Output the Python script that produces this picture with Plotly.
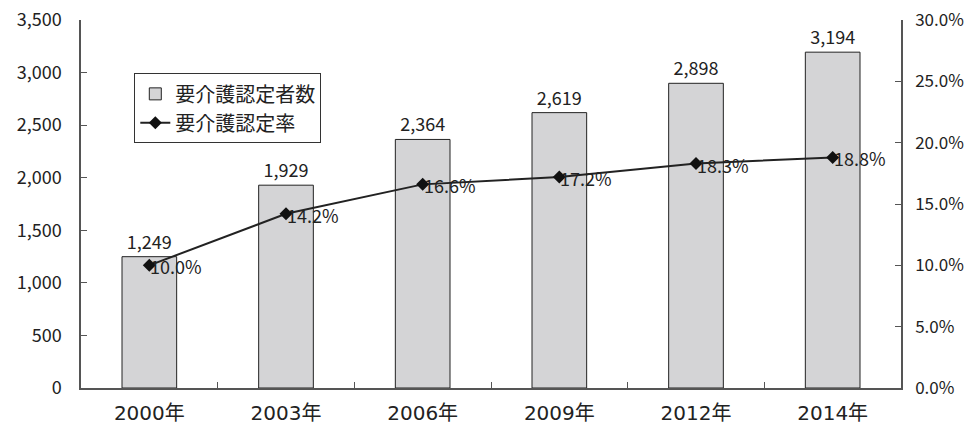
import plotly.graph_objects as go

years = ["2000年", "2003年", "2006年", "2009年", "2012年", "2014年"]
certified = [1249, 1929, 2364, 2619, 2898, 3194]          # 要介護認定者数
rate = [0.100, 0.142, 0.166, 0.172, 0.183, 0.188]          # 要介護認定率

FONT = "Noto Sans CJK JP"
XFONT = "DejaVu Sans, Noto Sans CJK JP"
AX = "#555555"
INK = "#222222"

fig = go.Figure()
fig.add_trace(go.Bar(
    x=years, y=certified, name="要介護認定者数",
    marker=dict(color="#d4d4d6", line=dict(color=INK, width=1)),
    width=0.4,
    text=[f"{v:,}" for v in certified], textposition="outside",
    textfont=dict(size=18, color=INK), cliponaxis=False,
))
fig.add_trace(go.Scatter(
    x=years, y=rate, name="要介護認定率", yaxis="y2", mode="lines+markers",
    line=dict(color=INK, width=2),
    marker=dict(symbol="diamond", size=10, color="#111111"),
    cliponaxis=False,
))

for yr, r in zip(years, rate):
    fig.add_annotation(x=yr, y=r, xref="x", yref="y2", text=f"{r*100:.1f}%",
                       showarrow=False, xanchor="left", yanchor="middle",
                       xshift=-1, yshift=-1, font=dict(size=18, color=INK))

fig.update_layout(
    width=965, height=428,
    margin=dict(l=81, r=64, t=20, b=40),
    paper_bgcolor="white", plot_bgcolor="white",
    font=dict(family=FONT, size=18, color=INK),
    bargap=0.6,
    showlegend=True,
    legend=dict(x=0.065, y=0.855, xanchor="left", yanchor="top",
                bordercolor="#333333", borderwidth=1, bgcolor="white",
                font=dict(size=20), tracegroupgap=0, itemwidth=30),
    xaxis=dict(showline=True, linecolor=AX, linewidth=1.5, ticks="inside",
               tickson="boundaries", ticklen=6, tickcolor=AX,
               tickfont=dict(family=XFONT, size=20), showgrid=False,
               automargin=False, ticklabelstandoff=6),
    yaxis=dict(range=[0, 3500], dtick=500, tickformat=",", showline=True,
               linecolor=AX, linewidth=1.5, ticks="inside", ticklen=6,
               tickcolor=AX, showgrid=False, zeroline=False,
               ticklabelstandoff=14, automargin=False),
    yaxis2=dict(range=[0, 0.30], dtick=0.05, tickformat=".1%", overlaying="y",
                side="right", showline=True, linecolor=AX, linewidth=1.5,
                ticks="inside", ticklen=6, tickcolor=AX, showgrid=False,
                zeroline=False, ticklabelstandoff=9, automargin=False,
                tickfont=dict(size=17)),
)

fig.write_html("out.html")
